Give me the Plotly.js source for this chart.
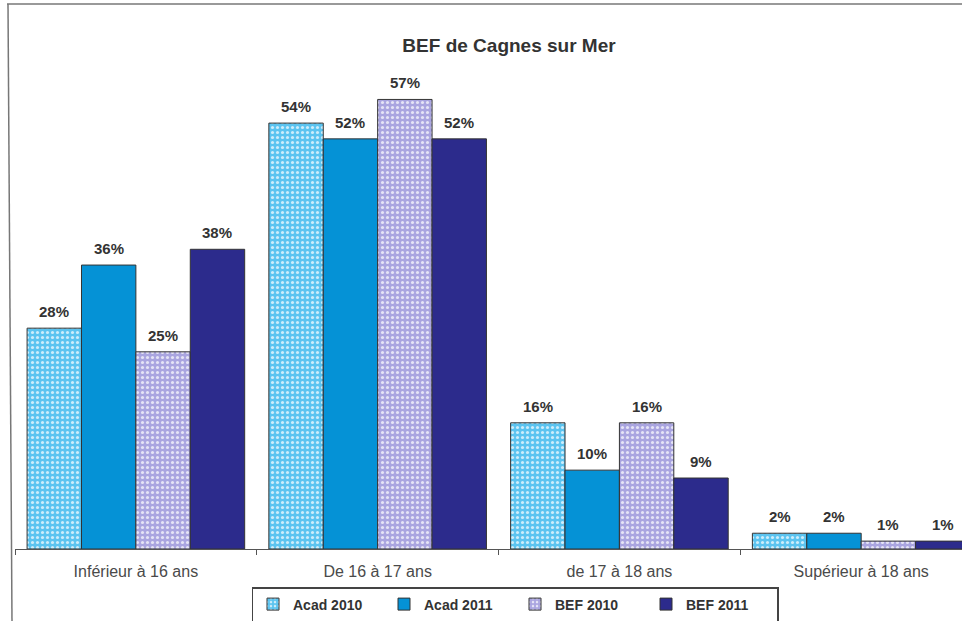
<!DOCTYPE html>
<html>
<head>
<meta charset="utf-8">
<script src="https://cdn.plot.ly/plotly-3.0.1.min.js"></script>
<style>html,body{margin:0;padding:0;background:#fff;}#chart{width:962px;height:621px;}</style>
</head>
<body>
<div id="chart"></div>
<script>
var categories = ["Inférieur à 16 ans", "De 16 à 17 ans", "de 17 à 18 ans", "Supérieur à 18 ans"];
var seriesNames = ["Acad 2010", "Acad 2011", "BEF 2010", "BEF 2011"];
var acad2010 = [28, 54, 16, 2];
var acad2011 = [36, 52, 10, 2];
var bef2010 = [25, 57, 16, 1];
var bef2011 = [38, 52, 9, 1];
var seriesValues = [acad2010, acad2011, bef2010, bef2011];

var colors = ["#5cc4f0", "#0592d6", "#aaa5e0", "#2c2b8c"];
var patterned = [true, false, true, false];
var FONT = "Liberation Sans, Arial, sans-serif";
var BARGAP = 0.1;

var traces = seriesValues.map(function (vals, i) {
  var marker = { color: colors[i], line: { color: "#333333", width: 1 } };
  if (patterned[i]) {
    marker.pattern = { shape: ".", fillmode: "overlay", fgcolor: "#ffffff", fgopacity: 0.7, size: 5, solidity: 0.3 };
  }
  return {
    type: "bar",
    name: seriesNames[i],
    x: categories,
    y: vals,
    marker: marker,
    hoverinfo: "x+y+name"
  };
});

// value labels above bars, placed from the data through the axes
var annotations = [];
var nSeries = seriesValues.length;
var slot = (1 - BARGAP) / nSeries;
seriesValues.forEach(function (vals, i) {
  vals.forEach(function (v, j) {
    annotations.push({
      xref: "x", yref: "y",
      x: j + (i - (nSeries - 1) / 2) * slot,
      y: v,
      text: "<b>" + v + "%</b>",
      showarrow: false,
      xanchor: "center", yanchor: "bottom",
      yshift: 6,
      font: { family: FONT, size: 15, color: "#333333" }
    });
  });
});

function px(x) { return (x - 15) / 947; }
function py(y) { return (549 - y) / 489; }

var layout = {
  width: 962,
  height: 621,
  paper_bgcolor: "#ffffff",
  plot_bgcolor: "#ffffff",
  margin: { l: 15, r: 0, t: 60, b: 72 },
  barmode: "group",
  bargap: BARGAP,
  bargroupgap: 0,
  title: {
    text: "<b>BEF de Cagnes sur Mer</b>",
    font: { family: FONT, size: 19, color: "#333333" },
    xref: "container", x: 509 / 962, xanchor: "center",
    yref: "container", y: 1 - 45 / 621, yanchor: "middle"
  },
  xaxis: {
    type: "category",
    range: [-0.5, 3.417],
    showline: true,
    linecolor: "#555555",
    linewidth: 1,
    ticks: "outside",
    tickson: "boundaries",
    ticklen: 5,
    tickcolor: "#555555",
    tickfont: { family: FONT, size: 16, color: "#4a4a4a" },
    ticklabelstandoff: 8,
    showgrid: false,
    zeroline: false,
    fixedrange: true
  },
  yaxis: {
    range: [0, 62],
    visible: false,
    showgrid: false,
    zeroline: false,
    fixedrange: true
  },
  showlegend: true,
  legend: {
    orientation: "h",
    xref: "container", x: 515 / 962, xanchor: "center",
    yref: "container", y: 1 - 587 / 621, yanchor: "top",
    bordercolor: "#444444",
    borderwidth: 1.5,
    bgcolor: "#ffffff",
    entrywidth: 86,
    entrywidthmode: "pixels",
    font: { family: FONT, size: 14, color: "#333333", weight: "bold" },
    tracegroupgap: 0,
    itemclick: false
  },
  annotations: annotations,
  shapes: [
    { type: "line", xref: "paper", yref: "paper", x0: px(7), x1: px(962), y0: py(4), y1: py(4), line: { color: "#777777", width: 1.5 } },
    { type: "line", xref: "paper", yref: "paper", x0: px(8), x1: px(12), y0: py(4), y1: py(621), line: { color: "#777777", width: 1.5 } }
  ]
};

Plotly.newPlot("chart", traces, layout, { displayModeBar: false, staticPlot: true });
</script>
</body>
</html>
